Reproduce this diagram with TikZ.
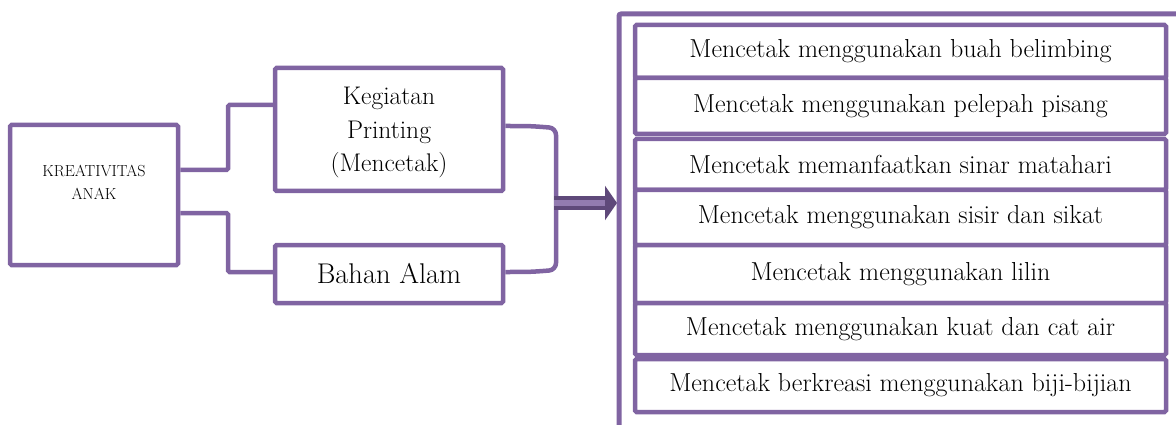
\documentclass[tikz,border=0pt]{standalone}
\usetikzlibrary{arrows.meta}
\definecolor{pline}{HTML}{8064A2}
\definecolor{pdark}{HTML}{5F497A}
\begin{document}
\begin{tikzpicture}[x=1pt,y=-1pt,
  box/.style={draw=pline,line width=4.5pt,rounded corners=1.5pt,fill=white,inner sep=0pt,align=center,text=black},
  item/.style={box,minimum width=531pt,font=\fontsize{26}{30}\selectfont},
  conn/.style={draw=pline,line width=4.5pt,rounded corners=1.5pt}]
\useasboundingbox (0,0) rectangle (1176,425);
\clip (0,0) rectangle (1176,425);
% left boxes
\node[box,minimum width=168pt,minimum height=140pt,
  label={[yshift=13pt,align=center,font=\fontsize{16}{23}\selectfont]center:KREATIVITAS\\ANAK}] (kr) at (94,195) {};
\node[box,minimum width=228pt,minimum height=123pt,
  label={[yshift=-3pt,align=center,font=\fontsize{25.5}{33.5}\selectfont]center:Kegiatan\\Printing\\(Mencetak)}] (keg) at (389,129.5) {};
\node[box,minimum width=228pt,minimum height=58pt,font=\fontsize{28.5}{32}\selectfont] (bah) at (389,274) {Bahan Alam};
% connectors
\coordinate (c1) at (228,170);
\coordinate (c2) at (228,213);
\draw[conn] (kr.east |- c1) -- (c1) |- (keg.west |- 0,105);
\draw[conn] (kr.east |- c2) -- (c2) |- (bah.west |- 0,272);
% bracket
\coordinate (b1) at (556,128);
\coordinate (b2) at (556,270);
\draw[conn,rounded corners=7pt] (keg.east |- 0,126) .. controls (530,126) .. (b1) -- (b2) .. controls (530,272) .. (bah.east |- 0,272);
% big frame
\coordinate (f1) at (619,14);
\draw[draw=pline,line width=5pt,rounded corners=2pt] (1190,14) -- (f1) -- (619,440);
% arrow
\coordinate (as) at (554,203);
\coordinate (ae) at (617,203);
\draw[pdark,line width=13pt,-{Triangle[length=12pt,width=34pt]}] (as) -- (ae);
\draw[pline!85!white,line width=5pt] (as) -- ([xshift=-12pt]ae);
% items
\node[item,minimum height=53pt] (i1) at (900.5,51.5) {Mencetak menggunakan buah belimbing};
\node[item,minimum height=56pt] (i2) at (900.5,106) {Mencetak menggunakan pelepah pisang};
\node[item,minimum height=51pt] (i3) at (900.5,164.5) {Mencetak memanfaatkan sinar matahari};
\node[item,minimum height=55pt] (i4) at (900.5,217.5) {Mencetak menggunakan sisir dan sikat};
\node[item,minimum height=58pt] (i5) at (900.5,274) {Mencetak menggunakan lilin};
\node[item,minimum height=52pt] (i6) at (900.5,329) {Mencetak menggunakan kuat dan cat air};
\node[item,minimum height=53pt] (i7) at (900.5,385.5) {Mencetak berkreasi menggunakan biji-bijian};
\end{tikzpicture}
\end{document}
